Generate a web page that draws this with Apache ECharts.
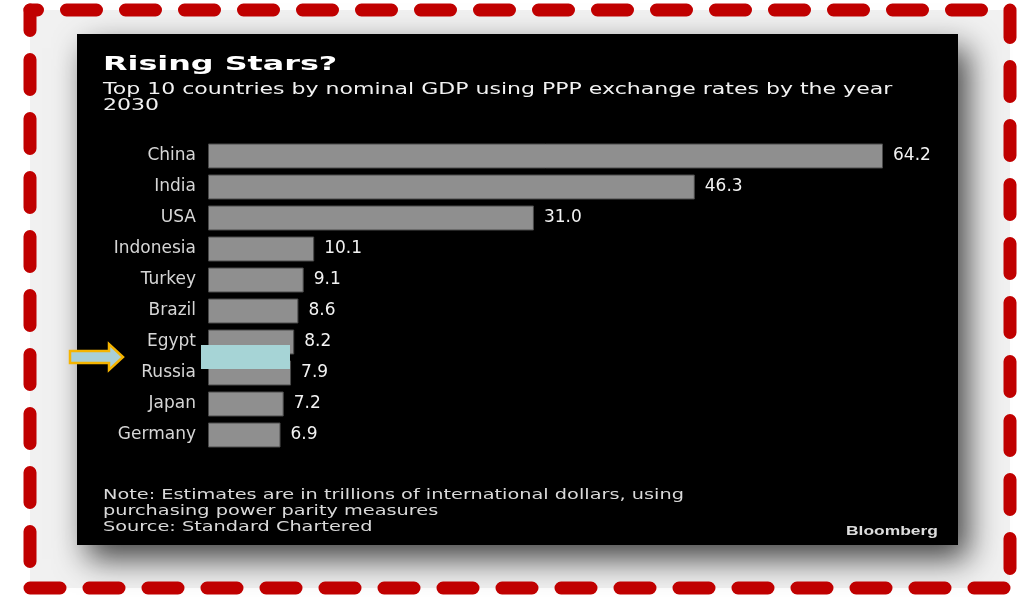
<!DOCTYPE html>
<html>
<head>
<meta charset="utf-8">
<script src="https://cdn.jsdelivr.net/npm/echarts@6/dist/echarts.min.js"></script>
<style>
html,body{margin:0;padding:0;background:#ffffff;}
#chart{width:1021px;height:597px;}
</style>
</head>
<body>
<div id="chart"></div>
<script>
const categories = ['China','India','USA','Indonesia','Turkey','Brazil','Egypt','Russia','Japan','Germany'];
const gdpValues = [64.2, 46.3, 31.0, 10.1, 9.1, 8.6, 8.2, 7.9, 7.2, 6.9];
const titleText = 'Rising Stars?';
const subtitleText = 'Top 10 countries by nominal GDP using PPP exchange rates by the year\n2030';
const noteText = 'Note: Estimates are in trillions of international dollars, using\npurchasing power parity measures\nSource: Standard Chartered';
const brandText = 'Bloomberg';

const chart = echarts.init(document.getElementById('chart'), null, {renderer:'canvas'});
const font = '"DejaVu Sans", Verdana, sans-serif';

function dashLine(x1, y1, x2, y2, offset) {
  return {type:'line', z:-5, shape:{x1:x1, y1:y1, x2:x2, y2:y2},
    style:{stroke:'#c00000', lineWidth:13, lineDash:[30,29], lineDashOffset:offset, lineCap:'round'}};
}

chart.setOption({
  backgroundColor: '#ffffff',
  animation: false,
  grid: {left:208, width:675, top:140.5, height:310, containLabel:false},
  xAxis: {
    type:'value', min:0, max:64.2, show:false
  },
  yAxis: {
    type:'category', data:categories, inverse:true,
    axisLine:{show:false}, axisTick:{show:false}, splitLine:{show:false},
    axisLabel:{color:'#d6d6d6', fontFamily:font, fontSize:17, margin:12}
  },
  series: [{
    type:'bar', data:gdpValues, barWidth:25,
    itemStyle:{color:'#8f8f8f', borderColor:'#4a4a4a', borderWidth:1},
    label:{show:true, position:'right', distance:10, color:'#f2f2f2', fontFamily:font, fontSize:17,
      formatter: p => p.value.toFixed(1)},
    z: 5
  }],
  graphic: [
    {type:'rect', z:-20, shape:{x:30, y:10, width:980, height:578},
      style:{fill:'#f1f1f1'}},
    {type:'rect', z:-10, shape:{x:77, y:34, width:881, height:511},
      style:{fill:'#000000', shadowBlur:30, shadowOffsetX:10, shadowOffsetY:14, shadowColor:'rgba(0,0,0,0.72)'}},
    dashLine(30, 10, 1010, 10, 22.5),
    dashLine(30, 10, 30, 588, 9.5),
    dashLine(30, 588, 1010, 588, 0),
    dashLine(1010, 10, 1010, 588, 2.5),
    {type:'text', z:50, x:103, y:65, scaleX:1.59,
      style:{text:titleText, fill:'#ffffff', font:'bold 20px ' + font, textAlign:'left', textVerticalAlign:'middle'}},
    {type:'text', z:50, x:103, y:82.5, scaleX:1.44,
      style:{text:subtitleText, fill:'#f2f2f2', font:'15.3px ' + font, lineHeight:16, textAlign:'left', textVerticalAlign:'top'}},
    {type:'text', z:50, x:103, y:487, scaleX:1.43,
      style:{text:noteText, fill:'#d9d9d9', font:'13.5px ' + font, lineHeight:16, textAlign:'left', textVerticalAlign:'top'}},
    {type:'text', z:50, x:846, y:531.5, scaleX:1.45,
      style:{text:brandText, fill:'#dddddd', font:'bold 12px "Liberation Sans", Arial, sans-serif', textAlign:'left', textVerticalAlign:'middle'}},
    {type:'rect', z:100, shape:{x:201, y:345, width:89, height:24},
      style:{fill:'#a6d4d6'}},
    {type:'polygon', z:100, shape:{points:[[70,351],[109,351],[109,344],[123,357],[109,370],[109,363],[70,363]]},
      style:{fill:'#a9cfd6', stroke:'#f5b400', lineWidth:2.5}}
  ]
});
</script>
</body>
</html>
